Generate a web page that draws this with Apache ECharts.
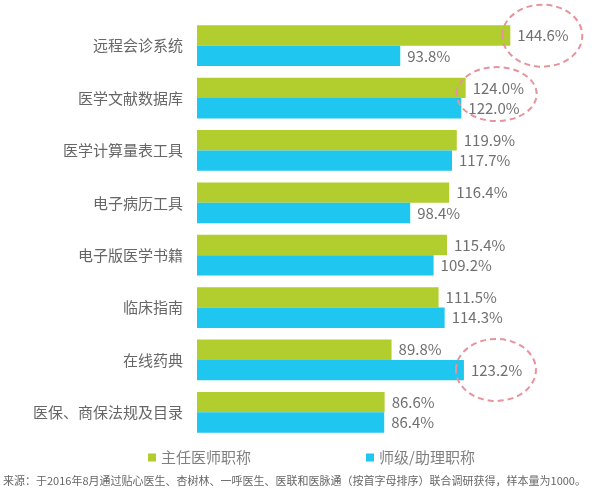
<!DOCTYPE html>
<html>
<head>
<meta charset="utf-8">
<script src="https://cdn.jsdelivr.net/npm/echarts@6/dist/echarts.min.js"></script>
<style>html,body{margin:0;padding:0;background:#fff}#c{width:607px;height:494px}</style>
</head>
<body>
<div id="c"></div>
<script>
const categories = ['远程会诊系统','医学文献数据库','医学计算量表工具','电子病历工具','电子版医学书籍','临床指南','在线药典','医保、商保法规及目录'];
const seriesNames = ['主任医师职称','师级/助理职称'];
const chiefValues = [144.6, 124.0, 119.9, 116.4, 115.4, 111.5, 89.8, 86.6];
const juniorValues = [93.8, 122.0, 117.7, 98.4, 109.2, 114.3, 123.2, 86.4];
const footnote = '来源：于2016年8月通过贴心医生、杏树林、一呼医生、医联和医脉通（按首字母排序）联合调研获得，样本量为1000。';
// highlighted labels: [seriesIndex, categoryIndex]
const highlights = [[0, 0], [0, 1], [1, 6]];

const font = '"Noto Sans CJK SC", "Noto Sans", sans-serif';
const chart = echarts.init(document.getElementById('c'));
const labelStyle = {show: true, position: 'right', distance: 7, color: '#707070', fontSize: 15, fontFamily: font,
  formatter: p => p.value.toFixed(1) + '%'};
const footText = {
  type: 'text', left: 3, top: 475,
  style: {text: footnote, fontSize: 11, fill: '#666', fontFamily: font}
};
chart.setOption({
  animation: false,
  textStyle: {fontFamily: font},
  grid: {left: 197, top: 19.5, width: 390, height: 419},
  legend: {
    data: seriesNames, left: 143, top: 445, itemWidth: 8, itemHeight: 8, icon: 'rect', itemGap: 115,
    textStyle: {fontSize: 15, color: '#808080', fontFamily: font}
  },
  xAxis: {type: 'value', min: 0, max: 180, show: false},
  yAxis: {
    type: 'category', data: categories, inverse: true,
    axisLine: {show: false}, axisTick: {show: false},
    axisLabel: {color: '#666', fontSize: 15, margin: 14, fontFamily: font}
  },
  series: [
    {name: seriesNames[0], type: 'bar', data: chiefValues, barGap: '0%', barCategoryGap: '22%',
     itemStyle: {color: '#b1cd2e'}, label: labelStyle},
    {name: seriesNames[1], type: 'bar', data: juniorValues, barGap: '0%', barCategoryGap: '22%',
     itemStyle: {color: '#1fc6ef'}, label: labelStyle}
  ],
  graphic: [footText]
});

// dashed annotation ellipses around highlighted labels, placed via the axis scales
const vals = [chiefValues, juniorValues];
const ellipses = highlights.map(([s, c], i) => {
  const p = chart.convertToPixel({gridIndex: 0}, [vals[s][c], categories[c]]);
  const barOffset = s === 0 ? -10 : 10;
  const cy = i === 1 ? p[1] - 4 : p[1] + barOffset;
  const ry = i === 1 ? 27 : 31;
  const cx = i === 1 ? p[0] + 31 : p[0] + 32;
  return {type: 'ellipse', shape: {cx: cx, cy: cy, rx: 40, ry: ry},
    style: {fill: 'none', stroke: '#e8939b', lineWidth: 2, lineDash: [6, 4]}, z: 10};
});
chart.setOption({graphic: [footText].concat(ellipses)});
</script>
</body>
</html>
